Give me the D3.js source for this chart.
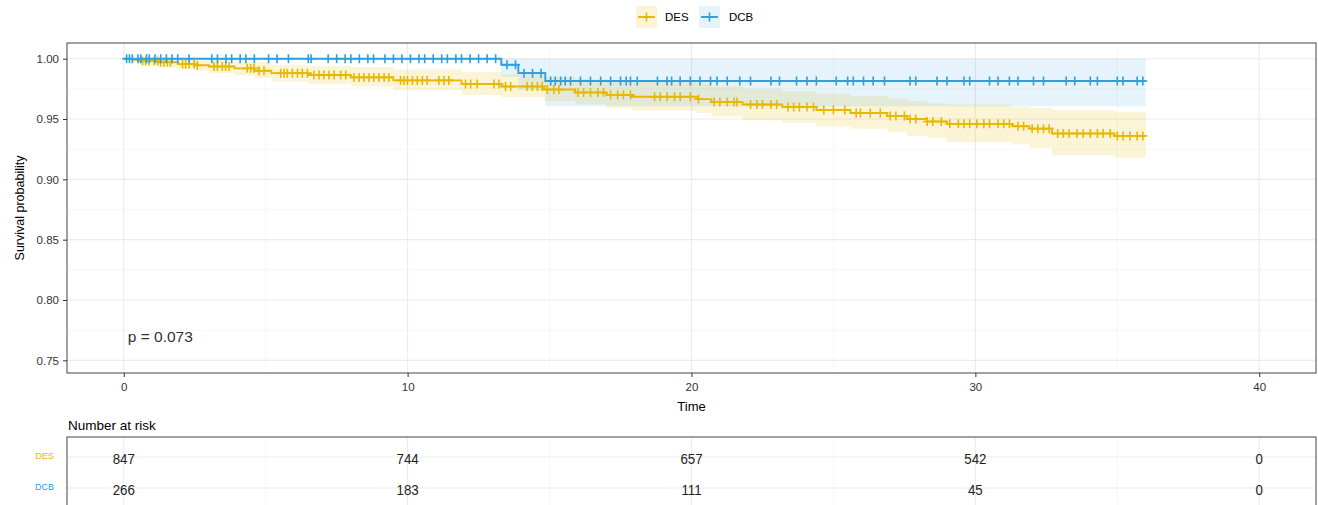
<!DOCTYPE html>
<html><head><meta charset="utf-8">
<script src="https://cdn.jsdelivr.net/npm/d3@7"></script>
<style>body{margin:0;background:#fff} svg{display:block}</style>
</head><body><svg id="c" width="1318" height="505"></svg>
<script>
// ---------------- data ----------------
const groups = ["DES", "DCB"];
const groupColors = ["#E7B800", "#2E9FDF"];

const desTime  = [0, 0.3, 0.6, 1.2, 1.9, 2.5, 3.0, 3.9, 4.6, 5.2, 6.5, 8.0, 9.5, 11.9, 13.3, 14.8, 15.9, 17.0, 17.9, 20.2, 20.7, 21.8, 23.2, 24.4, 25.6, 26.9, 27.6, 28.3, 29.0, 31.3, 31.9, 32.7, 34.9, 36.0];
const desSurv  = [1.000, 0.999, 0.998, 0.997, 0.9955, 0.9945, 0.9935, 0.992, 0.990, 0.988, 0.9865, 0.9845, 0.982, 0.979, 0.977, 0.9745, 0.972, 0.970, 0.9685, 0.9665, 0.964, 0.962, 0.960, 0.9575, 0.955, 0.9525, 0.950, 0.948, 0.946, 0.944, 0.942, 0.938, 0.936, 0.936];
const desLower = [1.000, 0.997, 0.995, 0.993, 0.991, 0.990, 0.988, 0.986, 0.984, 0.981, 0.979, 0.977, 0.974, 0.970, 0.968, 0.965, 0.962, 0.959, 0.957, 0.955, 0.952, 0.949, 0.947, 0.944, 0.942, 0.939, 0.936, 0.934, 0.931, 0.929, 0.926, 0.920, 0.918, 0.918];
const desUpper = [1.000, 1.000, 1.000, 1.000, 0.9995, 0.999, 0.999, 0.998, 0.997, 0.995, 0.994, 0.993, 0.991, 0.989, 0.987, 0.985, 0.983, 0.982, 0.981, 0.979, 0.977, 0.975, 0.973, 0.971, 0.969, 0.967, 0.965, 0.963, 0.962, 0.960, 0.959, 0.9575, 0.956, 0.956];

const dcbTime  = [0, 13.3, 13.9, 14.85, 36.0];
const dcbSurv  = [1.000, 0.995, 0.988, 0.9815, 0.9815];
const dcbLower = [1.000, 0.985, 0.974, 0.9605, 0.9605];
const dcbUpper = [1.000, 1.000, 1.000, 1.000, 1.000];

const desCensor = [0.66, 0.77, 0.89, 1.07, 1.19, 1.30, 1.42, 1.54, 1.65, 2.07, 2.18, 2.30, 2.48, 2.59, 3.18, 3.30, 3.47, 3.59, 3.71, 4.35, 4.47, 4.59, 4.77, 4.94, 5.53, 5.65, 5.76, 5.94, 6.12, 6.29, 6.47, 6.70, 6.88, 7.05, 7.23, 7.41, 7.64, 7.82, 8.11, 8.29, 8.46, 8.64, 8.81, 8.99, 9.17, 9.34, 9.75, 9.87, 9.99, 10.17, 10.34, 10.52, 10.69, 11.10, 11.28, 11.45, 12.04, 12.22, 12.45, 13.04, 13.22, 13.45, 13.63, 14.21, 14.39, 14.57, 14.74, 14.92, 15.15, 15.33, 16.0, 16.2, 16.44, 16.7, 16.9, 17.15, 17.4, 17.6, 17.85, 18.7, 18.9, 19.14, 19.4, 19.6, 19.96, 20.25, 20.8, 21.0, 21.26, 21.5, 21.6, 22.08, 22.3, 22.5, 22.8, 23.0, 23.4, 23.6, 23.8, 24.07, 24.3, 24.66, 25.0, 25.4, 25.8, 25.95, 26.3, 26.65, 27.0, 27.2, 27.5, 27.7, 27.9, 28.3, 28.5, 28.8, 29.1, 29.4, 29.6, 29.8, 30.05, 30.3, 30.5, 30.8, 31.0, 31.2, 31.5, 31.7, 32.0, 32.2, 32.4, 32.6, 32.9, 33.1, 33.3, 33.58, 33.8, 34.05, 34.3, 34.5, 34.75, 35.0, 35.2, 35.45, 35.7, 35.9];
const dcbCensor = [0.1, 0.2, 0.3, 0.5, 0.6, 0.8, 0.9, 1.1, 1.3, 1.5, 1.7, 1.9, 2.3, 3.1, 3.3, 3.6, 3.8, 4.1, 4.3, 4.6, 5.1, 5.4, 5.8, 6.5, 6.6, 7.2, 7.5, 7.8, 8.0, 8.3, 8.6, 8.8, 9.2, 9.5, 9.8, 10.1, 10.4, 10.6, 10.9, 11.2, 11.4, 11.7, 11.9, 12.2, 12.5, 12.8, 13.1, 13.5, 13.8, 14.1, 14.4, 14.7, 15.04, 15.2, 15.39, 15.55, 15.74, 16.09, 16.44, 16.8, 17.15, 17.5, 17.7, 17.85, 18.09, 18.8, 19.14, 19.3, 19.6, 19.96, 20.3, 20.67, 20.9, 21.26, 21.7, 22.08, 22.8, 23.1, 23.7, 24.07, 24.4, 25.1, 25.5, 25.7, 26.06, 26.4, 26.8, 27.7, 27.9, 28.65, 29.0, 29.6, 29.8, 30.5, 30.8, 31.2, 31.5, 32.05, 32.4, 33.2, 33.5, 34.05, 34.3, 35.0, 35.2, 35.7, 35.9];

const xTicks = [0, 10, 20, 30, 40];
const xMinor = [5, 15, 25, 35];
const yTicks = [0.75, 0.80, 0.85, 0.90, 0.95, 1.00];
const yMinor = [0.775, 0.825, 0.875, 0.925, 0.975];

const riskTimes = [0, 10, 20, 30, 40];
const desRisk = [847, 744, 657, 542, 0];
const dcbRisk = [266, 183, 111, 45, 0];
const pLabel = "p = 0.073";

// ---------------- layout ----------------
const svg = d3.select("#c");
const FONT = "'Liberation Sans', Arial, sans-serif";
const P = {left: 67, right: 1316, top: 43, bottom: 373};
const x = d3.scaleLinear().domain([-2, 42]).range([P.left, P.right]);
const y = d3.scaleLinear().domain([0.7395, 1.013]).range([P.bottom, P.top]);

// panel background + grid
const g = svg.append("g");
g.append("rect").attr("x", P.left).attr("y", P.top).attr("width", P.right - P.left).attr("height", P.bottom - P.top).attr("fill", "#fff");
g.selectAll(".xm").data(xMinor).join("line").attr("x1", d => x(d)).attr("x2", d => x(d)).attr("y1", P.top).attr("y2", P.bottom).attr("stroke", "#F2F2F2").attr("stroke-width", 0.6);
g.selectAll(".ym").data(yMinor).join("line").attr("y1", d => y(d)).attr("y2", d => y(d)).attr("x1", P.left).attr("x2", P.right).attr("stroke", "#F2F2F2").attr("stroke-width", 0.6);
g.selectAll(".xM").data(xTicks).join("line").attr("x1", d => x(d)).attr("x2", d => x(d)).attr("y1", P.top).attr("y2", P.bottom).attr("stroke", "#EBEBEB").attr("stroke-width", 1.1);
g.selectAll(".yM").data(yTicks).join("line").attr("y1", d => y(d)).attr("y2", d => y(d)).attr("x1", P.left).attr("x2", P.right).attr("stroke", "#EBEBEB").attr("stroke-width", 1.1);

svg.append("defs").append("clipPath").attr("id", "pc").append("rect")
  .attr("x", P.left).attr("y", P.top).attr("width", P.right - P.left).attr("height", P.bottom - P.top);

const series = [
  {name: "DES", color: groupColors[0], t: desTime, s: desSurv, lo: desLower, hi: desUpper, cens: desCensor, alpha: 0.16},
  {name: "DCB", color: groupColors[1], t: dcbTime, s: dcbSurv, lo: dcbLower, hi: dcbUpper, cens: dcbCensor, alpha: 0.12}
];
const plot = svg.append("g").attr("clip-path", "url(#pc)");

const area = d3.area().curve(d3.curveStepAfter).x(d => x(d.t)).y0(d => y(d.lo)).y1(d => y(d.hi));
const line = d3.line().curve(d3.curveStepAfter).x(d => x(d.t)).y(d => y(d.s));

series.forEach(sr => {
  const pts = sr.t.map((t, i) => ({t, s: sr.s[i], lo: sr.lo[i], hi: sr.hi[i]}));
  plot.append("path").datum(pts).attr("d", area).attr("fill", sr.color).attr("fill-opacity", sr.alpha).attr("stroke", "none");
});
series.forEach(sr => {
  const pts = sr.t.map((t, i) => ({t, s: sr.s[i]}));
  plot.append("path").datum(pts).attr("d", line).attr("fill", "none").attr("stroke", sr.color).attr("stroke-width", 1.9);
});
function plusPath(cx, cy, r) { return `M${cx - r},${cy}H${cx + r}M${cx},${cy - r}V${cy + r}`; }
series.forEach(sr => {
  const val = t => sr.s[Math.max(0, d3.bisectRight(sr.t, t) - 1)];
  plot.append("path")
    .attr("d", sr.cens.map(t => plusPath(x(t), y(val(t)), 4.5)).join(""))
    .attr("stroke", sr.color).attr("stroke-width", 1.6).attr("fill", "none");
});

// p value
svg.append("text").attr("x", x(0) + 4).attr("y", 342).attr("font-family", FONT).attr("font-size", 15.5).attr("fill", "#333").text(pLabel);

// panel border
svg.append("rect").attr("x", P.left).attr("y", P.top).attr("width", P.right - P.left).attr("height", P.bottom - P.top)
  .attr("fill", "none").attr("stroke", "#555").attr("stroke-width", 1.1);

// axes
const xAxis = svg.append("g").attr("transform", `translate(0,${P.bottom})`)
  .call(d3.axisBottom(x).tickValues(xTicks).tickSize(4).tickPadding(6).tickFormat(d3.format("d")));
const yAxis = svg.append("g").attr("transform", `translate(${P.left},0)`)
  .call(d3.axisLeft(y).tickValues(yTicks).tickSize(4).tickPadding(4).tickFormat(d3.format(".2f")));
[xAxis, yAxis].forEach(a => {
  a.select(".domain").remove();
  a.selectAll(".tick line").attr("stroke", "#333");
  a.selectAll(".tick text").attr("font-family", FONT).attr("font-size", 11.5).attr("fill", "#333");
});

svg.append("text").attr("x", x(20)).attr("y", 411).attr("text-anchor", "middle").attr("font-family", FONT).attr("font-size", 13).attr("fill", "#000").text("Time");
svg.append("text").attr("transform", `translate(24,${(P.top + P.bottom) / 2}) rotate(-90)`).attr("text-anchor", "middle")
  .attr("font-family", FONT).attr("font-size", 12.5).attr("fill", "#000").text("Survival probability");

// legend
const legend = svg.append("g");
const legendItems = [{name: "DES", kx: 636, tx: 665}, {name: "DCB", kx: 699, tx: 729}];
legendItems.forEach((it, i) => {
  const sr = series[i];
  legend.append("rect").attr("x", it.kx).attr("y", 6).attr("width", 21).attr("height", 22).attr("fill", sr.color).attr("fill-opacity", sr.alpha);
  legend.append("path").attr("d", `M${it.kx + 2},17H${it.kx + 19}`).attr("stroke", sr.color).attr("stroke-width", 1.9);
  legend.append("path").attr("d", plusPath(it.kx + 10.5, 17, 4.5)).attr("stroke", sr.color).attr("stroke-width", 1.6);
  legend.append("text").attr("x", it.tx).attr("y", 21).attr("font-family", FONT).attr("font-size", 11.5).attr("fill", "#000").text(it.name);
});

// risk table
svg.append("text").attr("x", 68).attr("y", 430).attr("font-family", FONT).attr("font-size", 13.5).attr("fill", "#000").text("Number at risk");
const T = {top: 437, bottom: 508};
const yr = d3.scalePoint().domain(groups).range([457, 488]);
const tb = svg.append("g");
tb.selectAll(".txm").data(xMinor).join("line").attr("x1", d => x(d)).attr("x2", d => x(d)).attr("y1", T.top).attr("y2", T.bottom).attr("stroke", "#F2F2F2").attr("stroke-width", 0.6);
tb.selectAll(".txM").data(xTicks).join("line").attr("x1", d => x(d)).attr("x2", d => x(d)).attr("y1", T.top).attr("y2", T.bottom).attr("stroke", "#EBEBEB").attr("stroke-width", 1.1);
tb.selectAll(".tyM").data(groups).join("line").attr("y1", d => yr(d)).attr("y2", d => yr(d)).attr("x1", P.left).attr("x2", P.right).attr("stroke", "#EBEBEB").attr("stroke-width", 1.1);
const riskRows = [desRisk, dcbRisk];
groups.forEach((gname, gi) => {
  const cy = yr(gname);
  tb.selectAll(".r" + gi).data(riskTimes).join("text")
    .attr("transform", d => `translate(${x(d)},${cy + 6.5}) scale(0.86,1)`).attr("text-anchor", "middle")
    .attr("font-family", FONT).attr("font-size", 15.5).attr("fill", "#222")
    .text((d, i) => riskRows[gi][i]);
  tb.append("text").attr("x", 54).attr("y", cy + 1.5).attr("text-anchor", "end").attr("font-family", FONT).attr("font-size", 9)
    .attr("fill", groupColors[gi]).text(gname);
});
tb.append("rect").attr("x", P.left).attr("y", T.top).attr("width", P.right - P.left).attr("height", T.bottom - T.top)
  .attr("fill", "none").attr("stroke", "#555").attr("stroke-width", 1.1);
</script></body></html>
